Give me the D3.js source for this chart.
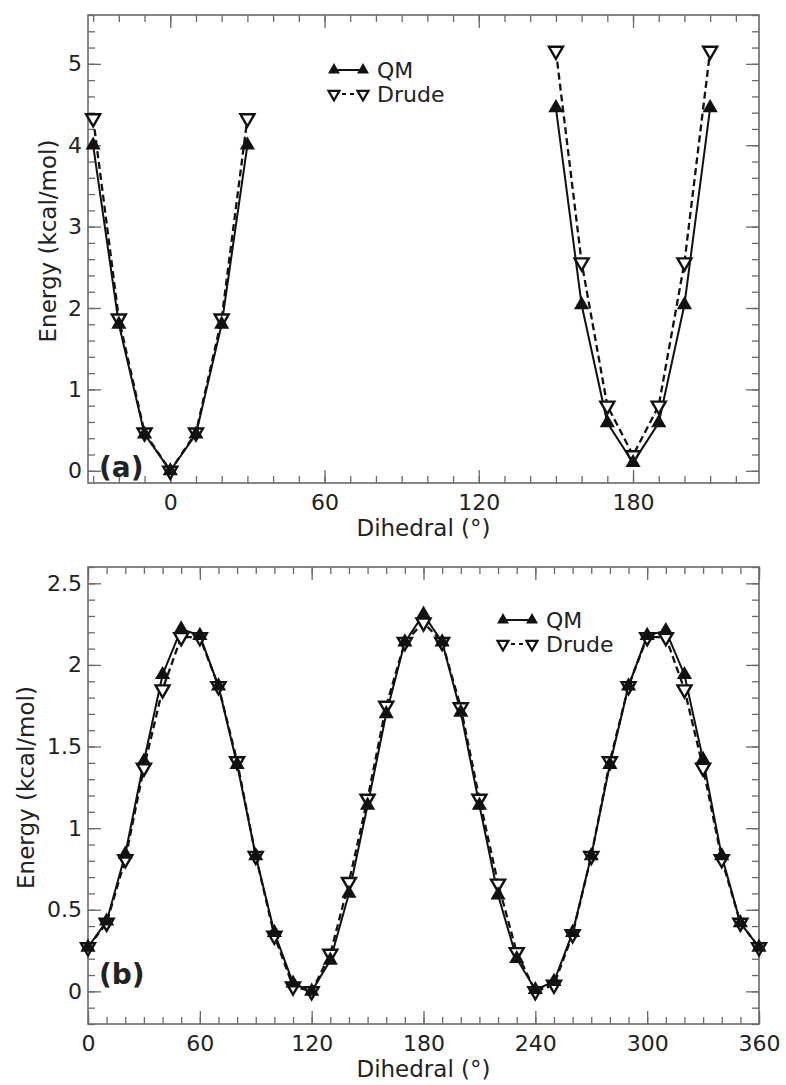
<!DOCTYPE html>
<html>
<head>
<meta charset="utf-8">
<script src="https://cdn.jsdelivr.net/npm/d3@7"></script>
<style>
  body { margin: 0; background: #fff; }
  svg text { font-family: "DejaVu Sans", sans-serif; fill: #222; }
</style>
</head>
<body>
<div id="chart"></div>
<script>
// ---- data ----
// panel (a): scan around 0 deg and around 180 deg
const anglesA1 = [-30, -20, -10, 0, 10, 20, 30];
const qmA1     = [4.00, 1.80, 0.45, 0.00, 0.45, 1.80, 4.00];
const drudeA1  = [4.33, 1.87, 0.47, 0.00, 0.47, 1.87, 4.33];
const anglesA2 = [150, 160, 170, 180, 190, 200, 210];
const qmA2     = [4.46, 2.04, 0.59, 0.10, 0.59, 2.04, 4.46];
const drudeA2  = [5.16, 2.56, 0.80, 0.19, 0.80, 2.56, 5.16];

// panel (b): full 0-360 scan
const anglesB = [0, 10, 20, 30, 40, 50, 60, 70, 80, 90, 100, 110, 120, 130, 140, 150, 160, 170, 180,
                 190, 200, 210, 220, 230, 240, 250, 260, 270, 280, 290, 300, 310, 320, 330, 340, 350, 360];
const qmB    = [0.27, 0.43, 0.84, 1.41, 1.94, 2.22, 2.18, 1.87, 1.39, 0.83, 0.36, 0.05, 0.00, 0.19, 0.60, 1.14, 1.70, 2.14, 2.31,
                2.14, 1.71, 1.14, 0.59, 0.20, 0.01, 0.06, 0.36, 0.83, 1.39, 1.87, 2.18, 2.21, 1.94, 1.42, 0.83, 0.42, 0.27];
const drudeB = [0.27, 0.42, 0.81, 1.37, 1.85, 2.17, 2.17, 1.87, 1.41, 0.83, 0.34, 0.03, 0.00, 0.23, 0.67, 1.18, 1.75, 2.14, 2.26,
                2.14, 1.74, 1.18, 0.66, 0.24, 0.00, 0.04, 0.35, 0.83, 1.41, 1.87, 2.17, 2.17, 1.85, 1.37, 0.81, 0.42, 0.27];

// ticks
const xTicksA = [0, 60, 120, 180];
const yTicksA = [0, 1, 2, 3, 4, 5];
const xTicksB = [0, 60, 120, 180, 240, 300, 360];
const yTicksB = [0, 0.5, 1, 1.5, 2, 2.5];

const seriesNames = ["QM", "Drude"];
const xLabel = "Dihedral (°)";
const yLabel = "Energy (kcal/mol)";

const W = 786, H = 1085;
const LEFT = 88, RIGHT = 759;
const MAJOR = 13, MINOR = 7;
const AXIS_COLOR = "#6a6a6a";
const INK = "#111";

const svg = d3.select("#chart").append("svg")
    .attr("width", W)
    .attr("height", H);

const triUp = d3.symbol().type(d3.symbolTriangle).size(100);
const triDown = d3.symbol().type(d3.symbolTriangle).size(85);
const legUp = d3.symbol().type(d3.symbolTriangle).size(62);
const legDown = d3.symbol().type(d3.symbolTriangle).size(52);

function drawPanel(opt) {
    const w = RIGHT - LEFT, h = opt.bottom - opt.top;
    const g = svg.append("g").attr("transform", `translate(${LEFT},${opt.top})`);

    const x = d3.scaleLinear().domain(opt.xDomain).range([0, w]);
    const y = d3.scaleLinear().domain(opt.yDomain).range([h, 0]);

    // ticks, all pointing inward, mirrored on all four sides
    const axes = [
        [d3.axisBottom(x).tickValues(opt.xMajor).tickSize(-MAJOR).tickPadding(11), `translate(0,${h})`],
        [d3.axisBottom(x).tickValues(opt.xMinor).tickSize(-MINOR).tickFormat(""), `translate(0,${h})`],
        [d3.axisTop(x).tickValues(opt.xMajor).tickSize(-MAJOR).tickFormat(""), null],
        [d3.axisTop(x).tickValues(opt.xMinor).tickSize(-MINOR).tickFormat(""), null],
        [d3.axisLeft(y).tickValues(opt.yMajor).tickSize(-MAJOR).tickPadding(6).tickFormat(d3.format("")), null],
        [d3.axisLeft(y).tickValues(opt.yMinor).tickSize(-MINOR).tickFormat(""), null],
        [d3.axisRight(y).tickValues(opt.yMajor).tickSize(-MAJOR).tickFormat(""), `translate(${w},0)`],
        [d3.axisRight(y).tickValues(opt.yMinor).tickSize(-MINOR).tickFormat(""), `translate(${w},0)`]
    ];
    axes.forEach(([ax, tr]) => {
        const a = g.append("g").call(ax.tickSizeOuter(0));
        if (tr) a.attr("transform", tr);
        a.select(".domain").remove();
        a.selectAll("line").attr("stroke", AXIS_COLOR).attr("stroke-width", 1.3);
        a.selectAll("text").attr("font-size", 22).attr("fill", "#222")
            .attr("font-family", "DejaVu Sans, sans-serif");
    });

    g.append("rect")
        .attr("width", w).attr("height", h)
        .attr("fill", "none")
        .attr("stroke", AXIS_COLOR)
        .attr("stroke-width", 1.6);

    const line = d3.line().x(d => x(d[0])).y(d => y(d[1]));

    opt.segments.forEach(s => {
        const qm = s.angles.map((a, i) => [a, s.qm[i]]);
        const dr = s.angles.map((a, i) => [a, s.drude[i]]);

        g.append("path").datum(dr).attr("d", line)
            .attr("fill", "none").attr("stroke", INK)
            .attr("stroke-width", 2.3).attr("stroke-dasharray", "7,4");
        g.append("path").datum(qm).attr("d", line)
            .attr("fill", "none").attr("stroke", INK)
            .attr("stroke-width", 2);

        g.selectAll(null).data(dr).enter().append("path")
            .attr("d", triDown)
            .attr("transform", d => `translate(${x(d[0])},${y(d[1])}) rotate(180)`)
            .attr("fill", "#fff").attr("stroke", INK).attr("stroke-width", 2.4);
        g.selectAll(null).data(qm).enter().append("path")
            .attr("d", triUp)
            .attr("transform", d => `translate(${x(d[0])},${y(d[1])})`)
            .attr("fill", INK);
    });

    // legend
    const lg = svg.append("g").attr("transform", `translate(${opt.legend[0]},${opt.legend[1]})`);
    const gap = 29, rowH = 24;
    lg.append("line").attr("x1", 0).attr("x2", gap).attr("y1", 0).attr("y2", 0)
        .attr("stroke", INK).attr("stroke-width", 2);
    [0, gap].forEach(px => lg.append("path").attr("d", legUp)
        .attr("transform", `translate(${px},0)`).attr("fill", INK));
    lg.append("line").attr("x1", 0).attr("x2", gap).attr("y1", rowH).attr("y2", rowH)
        .attr("stroke", INK).attr("stroke-width", 2).attr("stroke-dasharray", "4,4");
    [0, gap].forEach(px => lg.append("path").attr("d", legDown)
        .attr("transform", `translate(${px},${rowH}) rotate(180)`)
        .attr("fill", "#fff").attr("stroke", INK).attr("stroke-width", 2.2));
    seriesNames.forEach((name, i) => {
        lg.append("text").attr("x", gap + 14).attr("y", i * rowH).attr("dy", "0.36em")
            .attr("font-size", 22).text(name);
    });

    // panel tag
    svg.append("text")
        .attr("x", LEFT + 11).attr("y", opt.bottom - opt.tagRaise)
        .attr("font-family", "Liberation Sans, Arial, sans-serif")
        .attr("font-size", 28).attr("font-weight", "bold")
        .text(opt.tag);

    // axis titles
    svg.append("text")
        .attr("x", LEFT + w / 2).attr("y", opt.bottom + 53)
        .attr("text-anchor", "middle").attr("font-size", 23)
        .text(xLabel);
    svg.append("text")
        .attr("transform", `translate(${opt.yTitleX},${opt.top + h / 2 - 8}) rotate(-90)`)
        .attr("text-anchor", "middle").attr("font-size", 23)
        .text(yLabel);
}

drawPanel({
    top: 15, bottom: 483,
    xDomain: [-32, 229], yDomain: [-0.15, 5.6],
    xMajor: xTicksA, xMinor: d3.range(-30, 229, 10),
    yMajor: yTicksA, yMinor: d3.range(0, 5.61, 0.2),
    segments: [
        {angles: anglesA1, qm: qmA1, drude: drudeA1},
        {angles: anglesA2, qm: qmA2, drude: drudeA2}
    ],
    legend: [334, 70],
    tag: "(a)", tagRaise: 6,
    yTitleX: 56
});

drawPanel({
    top: 567, bottom: 1024,
    xDomain: [0, 360], yDomain: [-0.2, 2.6],
    xMajor: xTicksB, xMinor: d3.range(0, 361, 10),
    yMajor: yTicksB, yMinor: d3.range(-0.2, 2.61, 0.1),
    segments: [
        {angles: anglesB, qm: qmB, drude: drudeB}
    ],
    legend: [503, 620],
    tag: "(b)", tagRaise: 40,
    yTitleX: 34
});
</script>
</body>
</html>
